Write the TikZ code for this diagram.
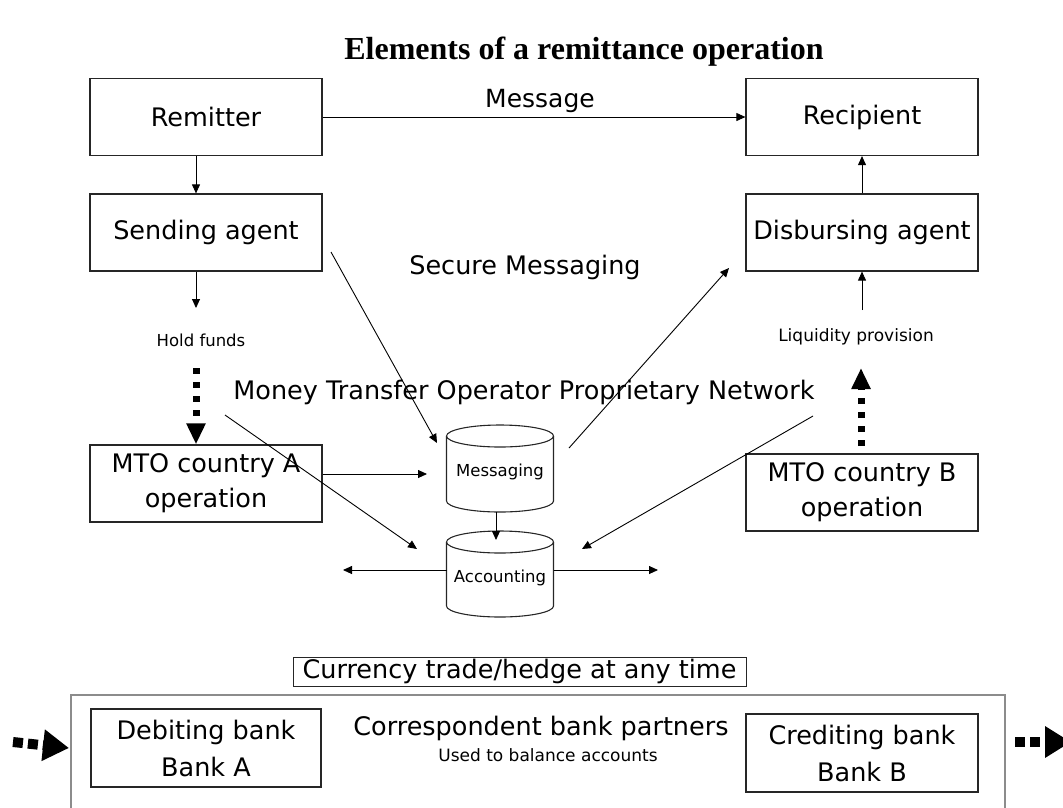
\documentclass[tikz,border=0pt]{standalone}
\usepackage{fontspec}
\setmainfont{DejaVu Sans}
\newfontfamily\titlefont{Liberation Serif}
\usetikzlibrary{arrows.meta}
\begin{document}
\begin{tikzpicture}[x=1pt,y=-1pt,
  box/.style={draw=black!85, line width=1.2pt, minimum width=232pt, minimum height=77pt, inner sep=0pt, align=center, font=\fontsize{25.5}{35}\selectfont},
  lbl/.style={inner sep=0pt, font=\fontsize{25.5}{30}\selectfont},
  small/.style={inner sep=0pt, font=\fontsize{16.5}{20}\selectfont},
  conn/.style={line width=0.9pt, -{Triangle[width=8pt,length=9pt]}},
  fat/.style={line width=7pt, dash pattern=on 6pt off 8pt, -{Triangle[width=18pt,length=21pt]}},
  fatter/.style={line width=10pt, dash pattern=on 10pt off 5pt, -{Triangle[width=30pt,length=26pt]}},
  cyl/.style={draw=black!85, line width=1.1pt},
]
\useasboundingbox (0,0) rectangle (1063,807);
% title
\node[inner sep=0pt, font=\titlefont\bfseries\fontsize{32}{36}\selectfont] (title) at (584,52) {Elements of a remittance operation};
% boxes
\node[box] (rem) at (206,117) {Remitter};
\node[box] (send) at (206,232.5) {Sending agent};
\node[box] (recip) at (862,117) {Recipient};
\node[box] (disb) at (862,232.5) {Disbursing agent};
\node[box] (mtoA) at (206,483.5) {MTO country A\\operation};
\node[box] (mtoB) at (862,492.5) {MTO country B\\operation};
% labels
\node[lbl, font=\fontsize{25}{30}\selectfont] (msglbl) at (540,101) {Message};
\node[lbl] (secure) at (525,267) {Secure Messaging};
\node[lbl] (mtonet) at (524,392) {Money Transfer Operator Proprietary Network};
\node[small] (hold) at (201,340) {Hold funds};
\node[small, font=\fontsize{17}{20}\selectfont] (liq) at (856,337) {Liquidity provision};
% cylinders
\node[minimum width=107pt, minimum height=87pt, inner sep=0pt] (msg) at (500,468.5) {};
\draw[cyl] (446.5,436) -- (446.5,501) arc[start angle=180,end angle=360,x radius=53.5pt,y radius=11pt] -- (553.5,436);
\draw[cyl] (500,436) ellipse[x radius=53.5pt, y radius=11pt];
\node[small] (msgtxt) at (500,472) {Messaging};
\node[minimum width=107pt, minimum height=86pt, inner sep=0pt] (acc) at (500,574) {};
\draw[cyl] (446.5,542) -- (446.5,606) arc[start angle=180,end angle=360,x radius=53.5pt,y radius=11pt] -- (553.5,542);
\draw[cyl] (500,542) ellipse[x radius=53.5pt, y radius=11pt];
\node[small] (acctxt) at (500,578) {Accounting};
% coordinates
\coordinate (holdtop) at (196,308);
\coordinate (dotA) at (196,368);
\coordinate (inMsg) at (427,474);
\coordinate (msgB) at (496,512);
\coordinate (accT) at (496,540);
\coordinate (accL) at (446.5,570);
\coordinate (accLend) at (343,570);
\coordinate (accR) at (553.5,570);
\coordinate (accRend) at (658,570);
\coordinate (d1s) at (225,415);
\coordinate (d1e) at (417,549);
\coordinate (d2s) at (331,252);
\coordinate (d2e) at (437,443);
\coordinate (d3s) at (569,448);
\coordinate (d3e) at (729,268);
\coordinate (d4s) at (813,416);
\coordinate (d4e) at (582,549);
\coordinate (liqtop) at (862,310);
\coordinate (dotBs) at (861,446);
\coordinate (dotBe) at (861,368);
% connectors
\draw[conn] (rem.east) -- (recip.west);
\draw[conn] ([xshift=-10pt]rem.south) -- ([xshift=-10pt]send.north);
\draw[conn] ([xshift=-10pt]send.south) -- (holdtop);
\draw[fat] (dotA) -- ([xshift=-10pt]mtoA.north);
\draw[conn] (inMsg -| mtoA.east) -- (inMsg);
\draw[conn] (msgB) -- (accT);
\draw[conn] (accL) -- (accLend);
\draw[conn] (accR) -- (accRend);
\draw[conn] (d1s) -- (d1e);
\draw[conn] (d2s) -- (d2e);
\draw[conn] (d3s) -- (d3e);
\draw[conn] (d4s) -- (d4e);
\draw[conn] (disb.north) -- (recip.south);
\draw[conn] (liqtop) -- (disb.south);
\draw[fat] (dotBs) -- (dotBe);
% bottom section
\node[draw=black!85, line width=1pt, minimum width=453pt, minimum height=29pt, inner sep=0pt, font=\fontsize{25.5}{28}\selectfont] (cur) at (519.5,671.5) {Currency trade/hedge at any time};
\draw[draw=black!45, line width=1.2pt] (71,830) -- (71,695) -- (1005,695) -- (1005,830);
\node[box, minimum height=78pt, minimum width=230pt, font=\fontsize{25.5}{37}\selectfont] (debit) at (206,748) {Debiting bank\\Bank A};
\node[box, minimum height=78pt, font=\fontsize{25.5}{37}\selectfont] (credit) at (862,753) {Crediting bank\\Bank B};
\node[lbl] (corr) at (541,728) {Correspondent bank partners};
\node[small, font=\fontsize{17}{20}\selectfont] (used) at (548,755) {Used to balance accounts};
\coordinate (lin) at (13,742);
\coordinate (rout) at (1015,742);
\coordinate (routend) at (1071,742);
\draw[fatter] (lin) -- (debit.west -| 69,0);
\draw[fatter] (rout) -- (routend);
\end{tikzpicture}
\end{document}
